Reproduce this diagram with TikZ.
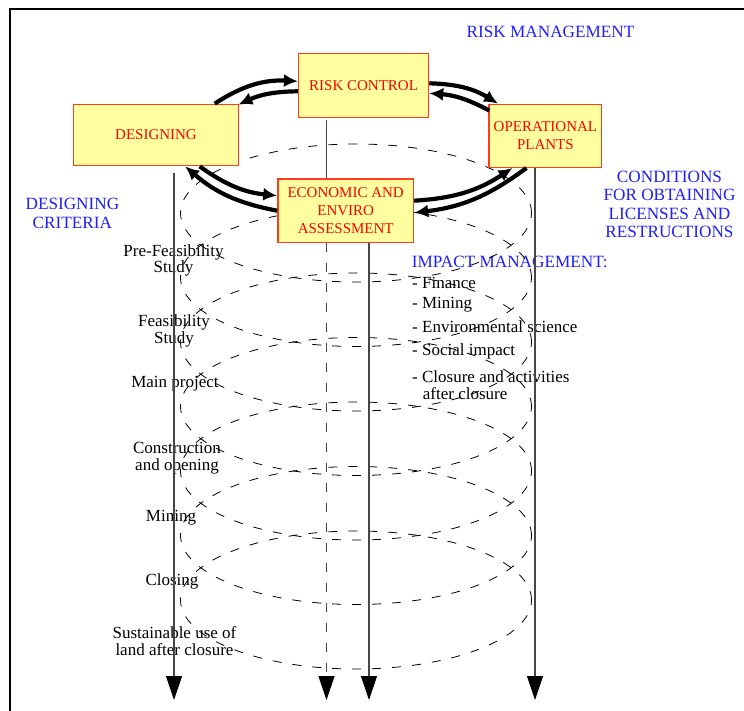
\documentclass[tikz,border=0pt]{standalone}
\usepackage{fontspec}
\setmainfont{Liberation Serif}
\usetikzlibrary{arrows.meta,calc}
\definecolor{boxred}{RGB}{255,60,30}
\definecolor{boxfill}{RGB}{255,255,160}
\definecolor{txtred}{RGB}{255,0,0}
\definecolor{txtblue}{RGB}{30,30,255}
\definecolor{vgray}{RGB}{70,70,70}
\begin{document}
\begin{tikzpicture}[x=1pt,y=-1pt,
  stagebox/.style={draw=boxred, fill=boxfill, line width=1.3pt, text=txtred,
    font=\fontsize{15}{18}\selectfont, align=center, inner sep=0pt},
  bluetxt/.style={text=txtblue, font=\fontsize{17.2}{18.5}\selectfont, align=center, inner sep=0pt},
  lbl/.style={text=black, font=\fontsize{17}{16.5}\selectfont, align=center, inner sep=0pt},
  lst/.style={text=black, font=\fontsize{17}{16.5}\selectfont, anchor=west, inner sep=0pt},
  helix/.style={draw=black, line width=0.8pt, dash pattern=on 9pt off 11pt},
  vline/.style={draw=vgray, line width=1.2pt, -{Triangle[length=24pt,width=16pt,color=black]}},
  flow/.style={draw=black, line width=4.2pt, -{Latex[length=14pt,width=13pt]}}
]
\useasboundingbox (0,0) rectangle (744,711);
\fill[white] (0,0) rectangle (744,711);
% frame
\draw[line width=2pt] (9.5,711) -- (9.5,9) -- (744,9);

% labels on the left
\node[lbl] (pre) at (173.5,260.5) {Pre-Feasibility\\Study};
\node[lbl] (feas) at (174,331) {Feasibility\\Study};
\node[lbl] (mainp) at (175,384) {Main project};
\node[lbl] (cons) at (177,458) {Construction\\and opening};
\node[lbl] (mine) at (171,518) {Mining};
\node[lbl] (closing) at (172,581) {Closing};
\node[lbl] (sust) at (174.5,641) {Sustainable use of\\land after closure};

% impact management list
\node[bluetxt, anchor=west] (imp) at (411.7,262) {IMPACT MANAGEMENT:};
\node[lst] (fin) at (412,283) {- Finance};
\node[lst] (mng) at (412,305) {- Mining};
\node[lst] (env) at (412,327) {- Environmental science};
\node[lst] (soc) at (412,351) {- Social impact};
\node[lst] (clo) at (412,377) {- Closure and activities};
\node[lst] (aft) at (422.7,394) {after closure};

% blue headings
\node[bluetxt] (rm) at (550.5,32) {RISK MANAGEMENT};
\node[bluetxt] (dc) at (72.4,213.5) {DESIGNING\\CRITERIA};
\node[bluetxt, font=\fontsize{17.2}{18.3}\selectfont] (cond) at (669.5,204.5) {CONDITIONS\\FOR OBTAINING\\LICENSES AND\\RESTRUCTIONS};

% dashed stacked ellipses
\foreach \k in {0,...,6}{
  \draw[helix] (356,213+64.5*\k) ellipse [x radius=175.5pt, y radius=69pt];
}

% vertical lines
\coordinate (v1t) at (174,173);
\coordinate (v1b) at (174,700);
\coordinate (v2t) at (326.5,120);
\coordinate (v2m) at (326.5,180);
\coordinate (v2d) at (326.5,243);
\coordinate (v2b) at (326.5,700);
\coordinate (v3t) at (369,242);
\coordinate (v3b) at (369,700);
\coordinate (v4t) at (535,167);
\coordinate (v4b) at (535,700);
\draw[vline] (v1t) -- (v1b);
\draw[draw=vgray, line width=1.2pt] (v2t) -- (v2m);
\draw[vline, dash pattern=on 9pt off 11pt] (v2d) -- (v2b);
\draw[vline] (v3t) -- (v3b);
\draw[vline] (v4t) -- (v4b);

% boxes
\node[stagebox, minimum width=130pt, minimum height=64pt] (rc) at (363.6,85.3) {RISK CONTROL};
\node[stagebox, minimum width=165.4pt, minimum height=61.4pt] (des) at (156,135) {DESIGNING};
\node[stagebox, minimum width=112.6pt, minimum height=63pt] (op) at (545.4,135.8) {OPERATIONAL\\PLANTS};
\node[stagebox, minimum width=135.7pt, minimum height=63.3pt] (eco) at (345.7,210.7) {ECONOMIC AND\\ENVIRO\\ASSESSMENT};

% thick curved arrows
\draw[flow] ([xshift=142pt]des.north west) to[bend left=18] ([yshift=4pt]rc.west);
\draw[flow] ([yshift=-6pt]rc.west) to[bend right=12] ([xshift=-1pt,yshift=-1pt]des.north east);
\draw[flow] ([yshift=2pt]rc.east) to[bend left=15] ([xshift=9.6pt]op.north west);
\draw[flow] ([xshift=1pt,yshift=-7pt]op.north west) to[bend right=12] ([yshift=-8pt]rc.east);
\draw[flow] ([xshift=127pt]des.south west) to[bend right=15] ([yshift=15pt]eco.west);
\draw[flow] (eco.west) to[bend left=15] ([xshift=112.5pt]des.south west);
\draw[flow] ([yshift=10pt]eco.east) to[bend right=15] ([xshift=24pt]op.south west);
\draw[flow] ([xshift=38pt]op.south west) to[bend left=15] ([yshift=-2pt]eco.east);
\end{tikzpicture}
\end{document}
